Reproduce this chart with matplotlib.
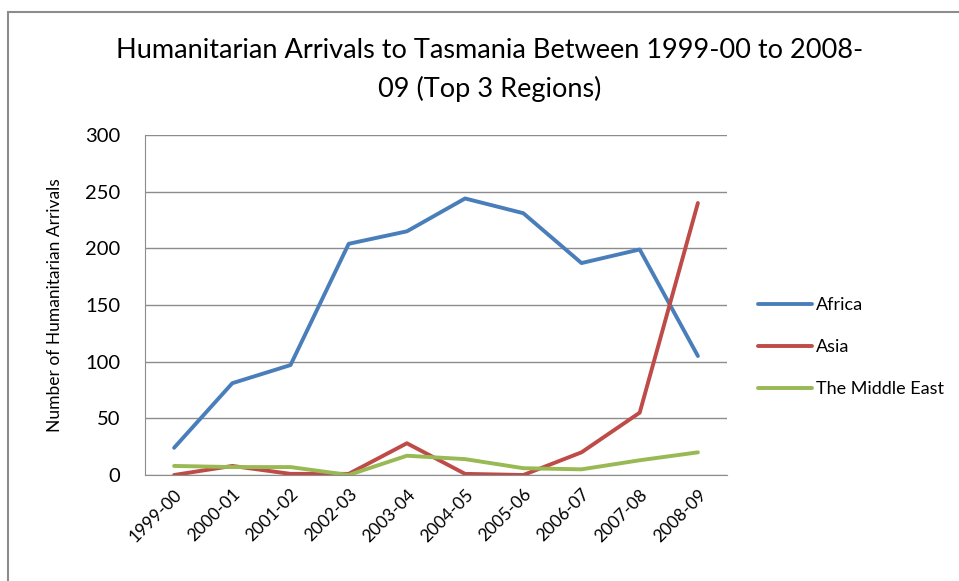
import matplotlib.pyplot as plt
import matplotlib.transforms as mtransforms
import numpy as np
from matplotlib.patches import Rectangle

plt.rcParams['font.family'] = ['Lato', 'DejaVu Sans']

years = ['1999-00', '2000-01', '2001-02', '2002-03', '2003-04',
         '2004-05', '2005-06', '2006-07', '2007-08', '2008-09']
africa = [24, 81, 97, 204, 215, 244, 231, 187, 199, 105]
asia = [0, 8, 1, 1, 28, 1, 0, 20, 55, 240]
middle_east = [8, 7, 7, 0, 17, 14, 6, 5, 13, 20]

fig = plt.figure(figsize=(9.59, 5.81), dpi=100)
fig.patches.append(Rectangle((8/959, -0.1), 1.2, 1 - 12/581 + 0.1, transform=fig.transFigure,
                             fill=False, edgecolor='#8c8c8c', linewidth=1.5))

ax = fig.add_axes([145/959, 1 - 475/581, 582/959, 340/581])
x = np.arange(len(years))
ax.plot(x, africa, color='#4A7EBB', lw=2.8, label='Africa', solid_capstyle='round')
ax.plot(x, asia, color='#BE4B48', lw=2.8, label='Asia', solid_capstyle='round')
ax.plot(x, middle_east, color='#98B954', lw=2.8, label='The Middle East', solid_capstyle='round')

ax.set_xlim(-0.5, 9.5)
ax.set_ylim(0, 300)
ax.set_yticks(range(0, 301, 50))
ax.set_xticks(x)
ax.set_xticklabels(years, rotation=45, ha='right', rotation_mode='anchor', fontsize=12.5)
shift = mtransforms.ScaledTranslation(14/100, -4/100, fig.dpi_scale_trans)
for lab in ax.get_xticklabels():
    lab.set_transform(lab.get_transform() + shift)
ax.tick_params(axis='y', labelsize=14.5, length=0, pad=18)
ax.tick_params(axis='x', length=0, pad=8)
ax.grid(axis='y', color='#8c8c8c', lw=1)
ax.set_axisbelow(True)
for s in ['top', 'right']:
    ax.spines[s].set_visible(False)
ax.spines['left'].set_color('#8c8c8c')
ax.spines['bottom'].set_color('#8c8c8c')

ax.set_ylabel('Number of Humanitarian Arrivals', fontsize=12.5, labelpad=16)
fig.text(490/959, 1 - 70/581, 'Humanitarian Arrivals to Tasmania Between 1999-00 to 2008-\n09 (Top 3 Regions)',
         ha='center', va='center', fontsize=19.5, linespacing=1.6)

ax.legend(loc='center left', bbox_to_anchor=(1.025, 0.5 - 42/340), frameon=False, fontsize=13,
          handlelength=3.0, handletextpad=0.2, labelspacing=1.45)

fig.savefig('out.png', dpi=100)
